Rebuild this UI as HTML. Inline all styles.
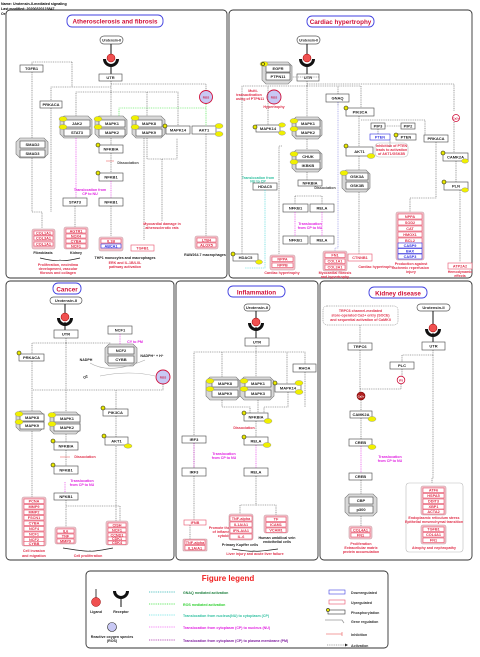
<!DOCTYPE html>
<html><head><meta charset="utf-8"><style>
html,body{margin:0;padding:0;background:#fff}
svg{display:block}
text{font-family:"Liberation Sans",sans-serif;font-weight:bold}
.g{fill:#fff;stroke:#444;stroke-width:.6}
.t{font-size:4px;text-anchor:middle;fill:#222}
.p{fill:#fff;stroke:#e8506a;stroke-width:.6}
.pg{fill:#f3c3cb;stroke:#c8a0a8;stroke-width:.6}
.tp{font-size:3.8px;text-anchor:middle;fill:#e0304a}
.b{fill:#fff;stroke:#3030e0;stroke-width:.6}
.tb{font-size:3.8px;text-anchor:middle;fill:#3030e0}
.cx{fill:#d8d8d8;stroke:#777;stroke-width:.6}
.pan{fill:#fff;stroke:#333;stroke-width:.9}
.ti{font-size:6.3px;text-anchor:middle;fill:#d0103a}
.tib{fill:#fff;stroke:#4040e0;stroke-width:.9}
.l{stroke:#555;stroke-width:.6;stroke-dasharray:1,.8;fill:none}
.lm{stroke:#e020e0;stroke-width:.6;stroke-dasharray:1,.8;fill:none}
.lg{stroke:#30e030;stroke-width:.6;stroke-dasharray:1,.8;fill:none}
.lc{stroke:#30d0d0;stroke-width:.6;stroke-dasharray:1,.8;fill:none}
.lb{stroke:#8080e0;stroke-width:.6;stroke-dasharray:1,.8;fill:none}
.s{stroke:#111;stroke-width:1;fill:none}
.y{fill:#f0f000;stroke:#888;stroke-width:.4}
.ph{fill:#e8e800;stroke:#222;stroke-width:.6}
.r{font-size:3.6px;text-anchor:middle;fill:#e0304a}
.m{font-size:3.6px;text-anchor:middle;fill:#e020e0}
.k{font-size:3.6px;text-anchor:middle;fill:#222}
.pill{fill:#fff;stroke:#555;stroke-width:.7}
.ros{fill:#c8c8f4;stroke:#d0103a;stroke-width:.9}
</style></head><body>
<svg width="480" height="657" viewBox="0 0 480 657" xmlns="http://www.w3.org/2000/svg">
<text x="1" y="5" style="font-size:3.6px">Name: Urotensin-II-mediated signaling</text>
<text x="1" y="10" style="font-size:3.6px">Last modified: 20200320123847</text>
<text x="1" y="15" style="font-size:3.6px">Organism: Homo sapiens</text>

<!-- PANELS -->
<rect class="pan" x="6" y="10" width="221" height="268" rx="4"/>
<rect class="pan" x="229" y="10" width="243" height="268" rx="4"/>
<rect class="pan" x="6" y="281" width="168" height="279" rx="4"/>
<rect class="pan" x="176" y="281" width="142" height="279" rx="4"/>
<rect class="pan" x="320" y="281" width="152" height="279" rx="4"/>
<rect class="pan" x="86" y="571" width="302" height="77" rx="4"/>

<!-- ===== PANEL 1 ===== -->
<rect class="tib" x="67" y="15" width="96" height="12" rx="5"/><text class="ti" x="115" y="23.3">Atherosclerosis and fibrosis</text>
<rect class="pill" x="100" y="36" width="23" height="8" rx="4"/><text class="t" x="111.5" y="41.5" style="font-size:3.4px">Urotensin-II</text>
<line class="s" x1="111" y1="44" x2="111" y2="55"/>
<path d="M103,59 A8,8 0 0,0 119,59 L116,59 A5,5 0 0,1 106,59Z" fill="#111"/>
<circle cx="111" cy="58" r="4" fill="#f05050" stroke="#900" stroke-width=".5"/>
<line class="s" x1="111" y1="64" x2="111" y2="74"/>
<rect class="g" x="99" y="74" width="23" height="7"/><text class="t" x="110.5" y="79">UTR</text>
<rect class="g" x="20" y="65" width="23" height="7"/><text class="t" x="31.5" y="70">TGFB1</text>
<rect class="g" x="40" y="101" width="22" height="7"/><text class="t" x="51" y="106">PRKACA</text>
<path class="l" d="M111,81 V95 M111,84 H206 V90 M111,87 H51 V101 M111,92 H76 V116 M111,92 H147 V116 M111,92 H178 V126 M111,92 V116 M72,62 H32 V65 M72,62 V87"/>
<polygon class="cx" points="64,116 88,116 92,120 92,134 88,138 64,138 60,134 60,120"/>
<rect class="g" x="64" y="120" width="26" height="7"/><text class="t" x="77" y="125">JAK2</text>
<rect class="g" x="64" y="129" width="26" height="7"/><text class="t" x="77" y="134">STAT3</text>
<polygon class="cx" points="99,116 123,116 127,120 127,134 123,138 99,138 95,134 95,120"/>
<rect class="g" x="99" y="120" width="26" height="7"/><text class="t" x="112" y="125">MAPK1</text>
<rect class="g" x="99" y="129" width="26" height="7"/><text class="t" x="112" y="134">MAPK2</text>
<polygon class="cx" points="136,116 161,116 165,120 165,134 161,138 136,138 132,134 132,120"/>
<rect class="g" x="136" y="120" width="26" height="7"/><text class="t" x="149" y="125">MAPK8</text>
<rect class="g" x="136" y="129" width="26" height="7"/><text class="t" x="149" y="134">MAPK9</text>
<ellipse class="y" cx="63" cy="119" rx="4" ry="2.5"/><ellipse class="y" cx="63" cy="127" rx="4" ry="2.5"/>
<ellipse class="y" cx="98" cy="119" rx="4" ry="2.5"/><ellipse class="y" cx="98" cy="127" rx="4" ry="2.5"/>
<ellipse class="y" cx="135" cy="118" rx="4" ry="2.5"/><ellipse class="y" cx="135" cy="127" rx="4" ry="2.5"/>
<rect class="g" x="166" y="126" width="24" height="8"/><text class="t" x="178" y="131.5">MAPK14</text>
<circle class="ph" cx="165" cy="126" r="2"/>
<rect class="g" x="192" y="126" width="24" height="8"/><text class="t" x="204" y="131.5">AKT1</text>
<ellipse class="y" cx="219" cy="126" rx="4" ry="2.5"/><ellipse class="y" cx="219" cy="134" rx="4" ry="2.5"/>
<circle class="ros" cx="206" cy="97" r="6.5"/><text class="t" x="206" y="98.5" style="fill:#d0103a;font-size:3px">ROS</text>
<path class="lg" d="M206,104 V126 M206,108 H119 V116"/>
<polygon class="cx" points="20,138 44,138 48,142 48,154 44,158 20,158 16,154 16,142"/>
<rect class="g" x="20" y="141" width="25" height="7"/><text class="t" x="32.5" y="146">SMAD2</text>
<rect class="g" x="20" y="150" width="25" height="7"/><text class="t" x="32.5" y="155">SMAD3</text>
<path class="l" d="M32,72 V138 M32,158 V212 H42 V228 M51,108 V212"/>
<rect class="g" x="99" y="145" width="24" height="8"/><text class="t" x="111" y="150.5">NFKBIA</text><circle class="ph" cx="98" cy="145" r="2"/>
<line x1="106" y1="161" x2="114" y2="161" stroke="#f08080" stroke-width=".7"/><text class="k" x="128" y="164" style="fill:#444">Dissociation</text>
<rect class="g" x="99" y="173" width="24" height="8"/><text class="t" x="111" y="178.5">NFKB1</text><circle class="ph" cx="98" cy="173" r="2"/>
<path class="l" d="M111,138 V145 M111,153 V173 M147,138 V159 H177 V138 M162,159 V221 M111,206 V236 M144,138 V240 M75,206 V227 M206,134 V236"/>
<path class="lm" d="M111,181 V198 M76,138 V198"/>
<text class="m" x="90" y="191">Translocation from</text><text class="m" x="90" y="195">CP to NU</text>
<rect class="g" x="63" y="198" width="24" height="8"/><text class="t" x="75" y="203.5">STAT3</text>
<rect class="g" x="99" y="198" width="24" height="8"/><text class="t" x="111" y="203.5">NFKB1</text>
<text class="r" x="162" y="225">Myocardial damage in</text><text class="r" x="162" y="229">atherosclerotic rats</text>
<rect class="pg" x="32" y="229" width="23" height="20" rx="2"/>
<rect class="p" x="34" y="231" width="19" height="4"/><text class="tp" x="43.5" y="234.3">COL1A1</text>
<rect class="p" x="34" y="236" width="19" height="4"/><text class="tp" x="43.5" y="239.3">COL3A1</text>
<rect class="p" x="34" y="242" width="19" height="4"/><text class="tp" x="43.5" y="245.3">COL1A1</text>
<rect class="pg" x="64" y="227" width="24" height="22" rx="2"/>
<rect class="p" x="66" y="229" width="20" height="4"/><text class="tp" x="76" y="232.3">AGTR1</text>
<rect class="p" x="66" y="234" width="20" height="4"/><text class="tp" x="76" y="237.3">NOX4</text>
<rect class="p" x="66" y="239" width="20" height="4"/><text class="tp" x="76" y="242.3">CYBA</text>
<rect class="p" x="66" y="244" width="20" height="4"/><text class="tp" x="76" y="247.3">NCF1</text>
<rect class="pg" x="99" y="237" width="24" height="14" rx="2"/>
<rect class="p" x="101" y="239" width="20" height="4"/><text class="tp" x="111" y="242.3">IL1B</text>
<rect class="b" x="101" y="244" width="20" height="4"/><text class="tb" x="111" y="247.3">ABCA1</text>
<rect class="p" x="131" y="245" width="23" height="6"/><text class="tp" x="142.5" y="249.3">TGFB1</text>
<rect class="pg" x="195" y="236" width="23" height="13" rx="2"/>
<rect class="p" x="197" y="238" width="19" height="4"/><text class="tp" x="206.5" y="241.3">LTB4</text>
<rect class="p" x="197" y="243" width="19" height="4"/><text class="tp" x="206.5" y="246.3">ALOX5</text>
<text class="k" x="43" y="254">Fibroblasts</text><text class="k" x="76" y="254">Kidney</text>
<text class="k" x="125" y="259">THP1 monocytes and macrophages</text><text class="k" x="205" y="256">RAW264.7 macrophages</text>
<path d="M40,258 Q57,262 60,260 Q63,262 80,258" stroke="#222" stroke-width=".7" fill="none"/>
<text class="r" x="58" y="266">Proliferation, neointima</text><text class="r" x="58" y="270">development, vascular</text><text class="r" x="58" y="274">fibrosis and collagen</text>
<text class="r" x="125" y="264">ERK and IL-1B/LXL</text><text class="r" x="125" y="268">pathway activation</text>

<!-- ===== PANEL 2 ===== -->
<rect class="tib" x="307" y="16" width="67" height="11" rx="5"/><text class="ti" x="340.5" y="23.8">Cardiac hypertrophy</text>
<rect class="pill" x="297" y="36" width="23" height="8" rx="4"/><text class="t" x="308.5" y="41.5" style="font-size:3.4px">Urotensin-II</text>
<line class="s" x1="307" y1="44" x2="307" y2="55"/>
<path d="M299,59 A8,8 0 0,0 315,59 L312,59 A5,5 0 0,1 302,59Z" fill="#111"/>
<circle cx="307" cy="58" r="4" fill="#f05050" stroke="#900" stroke-width=".5"/>
<line class="s" x1="307" y1="64" x2="307" y2="74"/>
<rect class="g" x="297" y="74" width="22" height="7"/><text class="t" x="308" y="79">UTR</text>
<polygon class="cx" points="266,62 288,62 292,66 292,80 288,84 266,84 262,80 262,66"/>
<rect class="g" x="266" y="65" width="24" height="7"/><text class="t" x="278" y="70">EGFR</text>
<rect class="g" x="266" y="73" width="24" height="7"/><text class="t" x="278" y="78">PTPN11</text>
<ellipse class="y" cx="264" cy="64" rx="4" ry="2.5"/><circle class="ph" cx="263" cy="64" r="1.6"/>
<circle class="ros" cx="274" cy="97" r="7"/><text class="t" x="274" y="98.5" style="fill:#d0103a;font-size:3px">ROS</text>
<text class="r" x="253" y="92">Multi-</text><text class="r" x="249" y="96">transactivation</text><text class="r" x="250" y="100">using of PTPN11</text>
<text class="r" x="274" y="108">Hypertrophy</text>
<path class="l" d="M307,81 V117 M307,84 H454 V111 M307,86 H338 V94 M307,86 H242 V254 M307,86 H268 V125 M319,77 H292 M307,86 H361 V108 M338,102 V106"/>
<rect class="g" x="326" y="94" width="23" height="8"/><text class="t" x="337.5" y="99.5">GNAQ</text>
<rect class="g" x="346" y="108" width="28" height="8"/><text class="t" x="360" y="113.5">PIK3CA</text><circle class="ph" cx="346" cy="108" r="2"/>
<rect class="g" x="256" y="125" width="24" height="7"/><text class="t" x="268" y="130">MAPK14</text><circle class="ph" cx="255" cy="127" r="2"/>
<ellipse class="y" cx="282" cy="125" rx="3.5" ry="2.2"/><ellipse class="y" cx="282" cy="133" rx="3.5" ry="2.2"/>
<polygon class="cx" points="296,117 318,117 322,121 322,135 318,139 296,139 292,135 292,121"/>
<rect class="g" x="296" y="120" width="24" height="7"/><text class="t" x="308" y="125">MAPK1</text>
<rect class="g" x="296" y="129" width="24" height="7"/><text class="t" x="308" y="134">MAPK2</text>
<ellipse class="y" cx="294" cy="121" rx="4" ry="2.5"/><ellipse class="y" cx="294" cy="129" rx="4" ry="2.5"/>
<rect class="g" x="371" y="123" width="14" height="6"/><text class="t" x="378" y="127.5">PIP3</text>
<rect class="g" x="401" y="123" width="14" height="6"/><text class="t" x="408" y="127.5">PIP2</text>
<rect class="b" x="370" y="134" width="20" height="6"/><text class="tb" x="380" y="138.5">PTEN</text>
<rect class="g" x="396" y="134" width="20" height="6"/><text class="t" x="406" y="138.5">PTEN</text><circle class="ph" cx="396" cy="135" r="2"/>
<rect class="g" x="346" y="147" width="27" height="9"/><text class="t" x="359.5" y="153">AKT1</text><circle class="ph" cx="346" cy="146" r="2"/>
<ellipse class="y" cx="371" cy="156" rx="4" ry="2.5"/>
<rect x="375" y="143" width="33" height="14" rx="4" fill="#fff" stroke="#bbb" stroke-width=".6"/>
<text class="r" x="391.5" y="147">Inhibition of PTEN</text><text class="r" x="391.5" y="151">leads to activation</text><text class="r" x="391.5" y="155">of AKT1/GSK3B</text>
<rect class="g" x="424" y="135" width="24" height="7"/><text class="t" x="436" y="140">PRKACA</text>
<circle cx="456" cy="118" r="3.5" fill="#fff" stroke="#d0103a" stroke-width=".8"/><text class="t" x="456" y="119.3" style="fill:#d0103a;font-size:2.8px">Ca2+</text>
<rect class="g" x="443" y="153" width="25" height="8"/><text class="t" x="455.5" y="158.5">CAMK2A</text><circle class="ph" cx="443" cy="153" r="2"/><ellipse class="y" cx="465" cy="161" rx="3.5" ry="2.2"/>
<rect class="g" x="444" y="182" width="24" height="8"/><text class="t" x="456" y="187.5">PLN</text><circle class="ph" cx="444" cy="182" r="2"/><ellipse class="y" cx="465" cy="190" rx="3.5" ry="2.2"/>
<polygon class="cx" points="296,150 318,150 322,154 322,168 318,172 296,172 292,168 292,154"/>
<rect class="g" x="296" y="153" width="24" height="7"/><text class="t" x="308" y="158">CHUK</text>
<rect class="g" x="296" y="162" width="24" height="7"/><text class="t" x="308" y="167">IKBKB</text>
<ellipse class="y" cx="294" cy="154" rx="4" ry="2.5"/><ellipse class="y" cx="294" cy="162" rx="4" ry="2.5"/>
<rect class="g" x="298" y="180" width="24" height="6"/><text class="t" x="310" y="184.5">NFKBIA</text>
<text class="k" x="325" y="189" style="fill:#444">Dissociation</text>
<polygon class="cx" points="346,170 366,170 370,174 370,188 366,192 346,192 342,188 342,174"/>
<rect class="g" x="346" y="173" width="22" height="7"/><text class="t" x="357" y="178">GSK3A</text>
<rect class="g" x="346" y="182" width="22" height="7"/><text class="t" x="357" y="187">GSK3B</text>
<ellipse class="y" cx="344" cy="173" rx="4" ry="2.5"/>
<rect class="g" x="253" y="183" width="24" height="7"/><text class="t" x="265" y="188">HDAC5</text>
<text class="k" x="258" y="179" style="fill:#30c0a0">Translocation from</text><text class="k" x="258" y="182.5" style="fill:#30c0a0">NU to CP</text>
<rect class="g" x="283" y="204" width="25" height="8"/><text class="t" x="295.5" y="209.5">NFKB1</text>
<rect class="g" x="310" y="204" width="24" height="8"/><text class="t" x="322" y="209.5">RELA</text>
<rect class="g" x="283" y="236" width="25" height="8"/><text class="t" x="295.5" y="241.5">NFKB1</text>
<rect class="g" x="310" y="236" width="24" height="8"/><text class="t" x="322" y="241.5">RELA</text>
<path class="lm" d="M295,212 V236 M322,212 V236"/>
<text class="m" x="310" y="225">Translocation</text><text class="m" x="310" y="229">from CP to NU</text>
<path class="l" d="M307,139 V150 M307,172 V180 M295,196 H322 M295,196 V204 M322,196 V204 M282,146 H279 V254 M359,116 V147 M359,156 V170 M359,192 V254 M385,126 H401 M378,129 V134 M436,142 V198 H410 V213 M454,122 V153 M456,161 V182 M460,190 V262 M361,120 H425 V135 M390,147 V140"/>
<path class="lc" d="M265,190 V268 H245"/>
<path class="lb" d="M338,102 V248 H335 V251"/>
<rect class="g" x="233" y="254" width="25" height="7"/><text class="t" x="245.5" y="259">HDAC5</text><circle class="ph" cx="233" cy="254" r="2"/><ellipse class="y" cx="259" cy="262" rx="3.5" ry="2.2"/>
<rect class="pg" x="270" y="255" width="25" height="15" rx="2"/>
<rect class="p" x="272" y="257" width="21" height="4.5"/><text class="tp" x="282.5" y="260.7">NPPA</text>
<rect class="p" x="272" y="263" width="21" height="4.5"/><text class="tp" x="282.5" y="266.7">NPPB</text>
<rect class="pg" x="323" y="251" width="24" height="20" rx="2"/>
<rect class="p" x="325" y="253" width="20" height="4.5"/><text class="tp" x="335" y="256.7">FN1</text>
<rect class="p" x="325" y="259" width="20" height="4.5"/><text class="tp" x="335" y="262.7">COL1A1</text>
<rect class="p" x="325" y="265" width="20" height="4.5"/><text class="tp" x="335" y="268.7">COL3A1</text>
<rect class="p" x="348" y="254" width="24" height="7"/><text class="tp" x="360" y="259">CTNNB1</text>
<rect class="pg" x="396" y="212" width="28" height="48" rx="2"/>
<rect class="p" x="398" y="214" width="24" height="5"/><text class="tp" x="410" y="218">NPPA</text>
<rect class="p" x="398" y="220" width="24" height="5"/><text class="tp" x="410" y="224">SOD2</text>
<rect class="p" x="398" y="226" width="24" height="5"/><text class="tp" x="410" y="230">CAT</text>
<rect class="p" x="398" y="232" width="24" height="5"/><text class="tp" x="410" y="236">HMOX1</text>
<rect class="p" x="398" y="238" width="24" height="5"/><text class="tp" x="410" y="242">BCL2</text>
<rect class="b" x="398" y="243" width="24" height="5"/><text class="tb" x="410" y="247">CASP9</text>
<rect class="b" x="398" y="248.5" width="24" height="5"/><text class="tb" x="410" y="252.5">BAX</text>
<rect class="b" x="398" y="254" width="24" height="5"/><text class="tb" x="410" y="258">CASP3</text>
<rect class="p" x="448" y="263" width="24" height="6"/><text class="tp" x="460" y="267.3">ATP2A2</text>
<text class="r" x="282" y="274">Cardiac hypertrophy</text>
<text class="r" x="335" y="274">Myocardial fibrosis</text><text class="r" x="335" y="278">and hypertrophy</text>
<text class="r" x="376" y="268">Cardiac hypertrophy</text>
<text class="r" x="411" y="265">Production against</text><text class="r" x="411" y="269">ischemic reperfusion</text><text class="r" x="411" y="273">injury</text>
<text class="r" x="460" y="273">Hemodynamic</text><text class="r" x="460" y="277">effects</text>

<!-- ===== PANEL 3 CANCER ===== -->
<rect class="tib" x="53" y="283" width="28" height="11" rx="5"/><text class="ti" x="67" y="291.3">Cancer</text>
<rect class="pill" x="50" y="297" width="32" height="7" rx="3.5"/><text class="t" x="66" y="302">Urotensin-II</text>
<line class="s" x1="65" y1="304" x2="65" y2="314"/>
<path d="M57,318 A8,8 0 0,0 73,318 L70,318 A5,5 0 0,1 60,318Z" fill="#111"/>
<circle cx="65" cy="317" r="4" fill="#f05050" stroke="#900" stroke-width=".5"/>
<line class="s" x1="65" y1="322" x2="65" y2="330"/>
<rect class="g" x="54" y="330" width="24" height="8"/><text class="t" x="66" y="335.5">UTR</text>
<rect class="g" x="108" y="326" width="24" height="8"/><text class="t" x="120" y="331.5">NCF1</text>
<text class="m" x="135" y="343">CY to PM</text>
<polygon class="cx" points="109,344 133,344 137,348 137,362 133,366 109,366 105,362 105,348"/>
<rect class="g" x="108" y="347" width="26" height="7"/><text class="t" x="121" y="352">NCF2</text>
<rect class="g" x="108" y="356" width="26" height="7"/><text class="t" x="121" y="361">CYBB</text>
<text class="k" x="86" y="361">NADPH</text><text class="k" x="152" y="357">NADPH⁺ + H⁺</text>
<text class="k" x="86" y="378" transform="rotate(-25 86 378)">O2</text>
<circle class="ros" cx="163" cy="377" r="7"/><text class="t" x="163" y="378.5" style="fill:#d0103a;font-size:3px">ROS</text>
<path d="M90,363 Q110,375 145,360 M100,376 Q130,370 155,376" stroke="#aaa" stroke-width=".6" fill="none"/>
<rect class="g" x="19" y="354" width="25" height="7"/><text class="t" x="31.5" y="359">PRKACA</text><circle class="ph" cx="19" cy="353" r="2"/>
<path class="lm" d="M120,344 V334 M65,482 V493"/>
<path class="l" d="M66,338 V412 M66,343 H110 V344 M66,343 H32 V354 M32,361 V411 M163,384 V390 H32 M116,390 V409 M116,416 V437 M116,446 V521 M32,431 V497 M66,434 V442 M66,450 V466 M66,500 V527 M66,506 H120 V521"/>
<polygon class="cx" points="20,411 40,411 44,415 44,427 40,431 20,431 16,427 16,415"/>
<rect class="g" x="20" y="414" width="24" height="7"/><text class="t" x="32" y="419">MAPK8</text>
<rect class="g" x="20" y="422" width="24" height="7"/><text class="t" x="32" y="427">MAPK9</text>
<ellipse class="y" cx="19" cy="414" rx="4" ry="2.5"/><ellipse class="y" cx="19" cy="422" rx="4" ry="2.5"/>
<polygon class="cx" points="54,412 76,412 80,416 80,430 76,434 54,434 50,430 50,416"/>
<rect class="g" x="54" y="415" width="26" height="7"/><text class="t" x="67" y="420">MAPK1</text>
<rect class="g" x="54" y="424" width="26" height="7"/><text class="t" x="67" y="429">MAPK2</text>
<ellipse class="y" cx="52" cy="415" rx="4" ry="2.5"/><ellipse class="y" cx="52" cy="424" rx="4" ry="2.5"/>
<rect class="g" x="103" y="409" width="25" height="7"/><text class="t" x="115.5" y="414">PIK3CA</text><circle class="ph" cx="103" cy="408" r="2"/>
<rect class="g" x="54" y="442" width="24" height="8"/><text class="t" x="66" y="447.5">NFKBIA</text><circle class="ph" cx="53" cy="441" r="2"/>
<rect class="g" x="105" y="437" width="23" height="8"/><text class="t" x="116.5" y="442.5">AKT1</text><circle class="ph" cx="104" cy="436" r="2"/><ellipse class="y" cx="128" cy="446" rx="4" ry="2.2"/>
<line x1="60" y1="457" x2="70" y2="457" stroke="#f08080" stroke-width=".7"/><text class="r" x="85" y="458">Dissociation</text>
<rect class="g" x="54" y="466" width="24" height="8"/><text class="t" x="66" y="471.5">NFKB1</text><circle class="ph" cx="53" cy="465" r="2"/>
<text class="m" x="82" y="482">Translocation</text><text class="m" x="82" y="486">from CP to NU</text>
<rect class="g" x="54" y="493" width="24" height="7"/><text class="t" x="66" y="498">NFKB1</text>
<rect class="pg" x="22" y="497" width="24" height="49" rx="2"/>
<rect class="p" x="24" y="499" width="20" height="4.5"/><text class="tp" x="34" y="502.7">PCNA</text>
<rect class="p" x="24" y="504.5" width="20" height="4.5"/><text class="tp" x="34" y="508.2">MMP9</text>
<rect class="p" x="24" y="510" width="20" height="4.5"/><text class="tp" x="34" y="513.7">MMP2</text>
<rect class="p" x="24" y="515.5" width="20" height="4.5"/><text class="tp" x="34" y="519.2">FSCN1</text>
<rect class="p" x="24" y="521" width="20" height="4.5"/><text class="tp" x="34" y="524.7">CYBA</text>
<rect class="p" x="24" y="526.5" width="20" height="4.5"/><text class="tp" x="34" y="530.2">NCF4</text>
<rect class="p" x="24" y="532" width="20" height="4.5"/><text class="tp" x="34" y="535.7">NCF1</text>
<rect class="p" x="24" y="537.5" width="20" height="4.5"/><text class="tp" x="34" y="541.2">NCF2</text>
<rect class="p" x="24" y="541.5" width="20" height="4"/><text class="tp" x="34" y="545">CYBB</text>
<rect class="pg" x="55" y="527" width="21" height="17" rx="2"/>
<rect class="p" x="57" y="529" width="17" height="4"/><text class="tp" x="65.5" y="532.3">IL6</text>
<rect class="p" x="57" y="534" width="17" height="4"/><text class="tp" x="65.5" y="537.3">TNF</text>
<rect class="p" x="57" y="539" width="17" height="4"/><text class="tp" x="65.5" y="542.3">MMP9</text>
<rect class="pg" x="106" y="521" width="22" height="24" rx="2"/>
<rect class="p" x="108" y="523" width="18" height="4"/><text class="tp" x="117" y="526.3">CISH</text>
<rect class="p" x="108" y="528" width="18" height="4"/><text class="tp" x="117" y="531.3">NCF1</text>
<rect class="p" x="108" y="533" width="18" height="4"/><text class="tp" x="117" y="536.3">CCND1</text>
<rect class="p" x="108" y="537" width="18" height="3.5"/><text class="tp" x="117" y="540">CDK1</text>
<rect class="p" x="108" y="541" width="18" height="3.5"/><text class="tp" x="117" y="544">CDK4</text>
<text class="r" x="34" y="552">Cell invasion</text><text class="r" x="34" y="557">and migration</text>
<path d="M63,548 Q88,552 90,551 Q92,552 113,548" stroke="#222" stroke-width=".7" fill="none"/>
<text class="r" x="88" y="557">Cell proliferation</text>

<!-- ===== PANEL 4 INFLAMMATION ===== -->
<rect class="tib" x="228" y="286" width="57" height="11" rx="5"/><text class="ti" x="256.5" y="294.3">Inflammation</text>
<rect class="pill" x="244" y="304" width="26" height="7" rx="3.5"/><text class="t" x="257" y="309">Urotensin-II</text>
<line class="s" x1="256" y1="311" x2="256" y2="319"/>
<path d="M248,323 A8,8 0 0,0 264,323 L261,323 A5,5 0 0,1 251,323Z" fill="#111"/>
<circle cx="256" cy="322" r="4" fill="#f05050" stroke="#900" stroke-width=".5"/>
<line class="s" x1="256" y1="327" x2="256" y2="338"/>
<rect class="g" x="245" y="338" width="24" height="8"/><text class="t" x="257" y="343.5">UTR</text>
<rect class="g" x="293" y="364" width="23" height="8"/><text class="t" x="304.5" y="369.5">RHOA</text>
<path class="l" d="M256,346 V377 M256,352 H194 V436 M256,352 H305 V364 M256,352 H222 V377 M256,352 H287 V384 M222,400 V407 H250 V413 M258,400 V413 M288,392 V407 H264 V413 M305,372 V407 M256,421 V437 M194,443 V468 M194,476 V520 M256,476 V505 H240 V514 M256,505 H276 V515 M190,525 V540"/>
<path class="lm" d="M194,443 V468 M256,445 V468"/>
<polygon class="cx" points="210,377 236,377 240,381 240,396 236,400 210,400 206,396 206,381"/>
<rect class="g" x="212" y="380" width="26" height="7"/><text class="t" x="225" y="385">MAPK8</text>
<rect class="g" x="212" y="390" width="26" height="7"/><text class="t" x="225" y="395">MAPK9</text>
<ellipse class="y" cx="210" cy="381" rx="4" ry="2.5"/><ellipse class="y" cx="210" cy="389" rx="4" ry="2.5"/>
<polygon class="cx" points="244,377 270,377 274,381 274,396 270,400 244,400 240,396 240,381"/>
<rect class="g" x="245" y="380" width="26" height="7"/><text class="t" x="258" y="385">MAPK1</text>
<rect class="g" x="245" y="390" width="26" height="7"/><text class="t" x="258" y="395">MAPK3</text>
<ellipse class="y" cx="244" cy="381" rx="4" ry="2.5"/><ellipse class="y" cx="244" cy="389" rx="4" ry="2.5"/>
<rect class="g" x="275" y="384" width="26" height="8"/><text class="t" x="288" y="389.5">MAPK14</text><circle class="ph" cx="275" cy="383" r="2"/>
<ellipse class="y" cx="299" cy="383" rx="4" ry="2.5"/><ellipse class="y" cx="299" cy="392" rx="4" ry="2.5"/>
<rect class="g" x="244" y="413" width="24" height="8"/><text class="t" x="256" y="418.5">NFKBIA</text><circle class="ph" cx="244" cy="413" r="2"/><ellipse class="y" cx="268" cy="421" rx="4" ry="2.5"/>
<text class="r" x="244" y="429">Dissociation</text>
<rect class="g" x="244" y="437" width="24" height="8"/><text class="t" x="256" y="442.5">RELA</text><circle class="ph" cx="244" cy="437" r="2"/><ellipse class="y" cx="267" cy="445" rx="4" ry="2.5"/>
<rect class="g" x="182" y="436" width="24" height="7"/><text class="t" x="194" y="441">IRF3</text>
<text class="m" x="224" y="455">Translocation</text><text class="m" x="224" y="459">from CP to NU</text>
<rect class="g" x="182" y="468" width="24" height="8"/><text class="t" x="194" y="473.5">IRF3</text>
<rect class="g" x="244" y="468" width="24" height="8"/><text class="t" x="256" y="473.5">RELA</text>
<rect class="p" x="184" y="520" width="22" height="5"/><text class="tp" x="195" y="524">IFNB</text>
<text class="r" x="226" y="529">Promote the release</text><text class="r" x="226" y="533">of inflammatory</text><text class="r" x="226" y="537">cytokines</text>
<rect class="pg" x="183" y="539" width="24" height="12" rx="1"/>
<rect class="p" x="185" y="540" width="20" height="4.5"/><text class="tp" x="195" y="543.8">TNF-alpha</text>
<rect class="p" x="185" y="545.5" width="20" height="4.5"/><text class="tp" x="195" y="549.3">IL1A/A1</text>
<rect class="pg" x="229" y="514" width="24" height="26" rx="2"/>
<rect class="p" x="230" y="516" width="22" height="5"/><text class="tp" x="241" y="520">TNF-alpha</text>
<rect class="p" x="230" y="522" width="22" height="5"/><text class="tp" x="241" y="526">IL1A/A1</text>
<rect class="p" x="230" y="528" width="22" height="5"/><text class="tp" x="241" y="532">IFN-A/A1</text>
<rect class="p" x="230" y="534" width="22" height="5"/><text class="tp" x="241" y="538">IL-6</text>
<rect class="pg" x="264" y="515" width="24" height="18" rx="2"/>
<rect class="p" x="266" y="517" width="20" height="4.5"/><text class="tp" x="276" y="520.7">TF</text>
<rect class="p" x="266" y="522.5" width="20" height="4.5"/><text class="tp" x="276" y="526.2">ICAM1</text>
<rect class="p" x="266" y="528" width="20" height="4.5"/><text class="tp" x="276" y="531.7">VCAM1</text>
<text class="k" x="240" y="546">Primary Kupffer cells</text>
<text class="k" x="277" y="539">Human umbilical vein</text><text class="k" x="277" y="543">endothelial cells</text>
<path d="M232,549 Q252,552 254,551 Q256,552 278,549" stroke="#222" stroke-width=".7" fill="none"/>
<text class="r" x="255" y="555">Liver injury and acute liver failure</text>

<!-- ===== PANEL 5 KIDNEY ===== -->
<rect class="tib" x="369" y="287" width="58" height="11" rx="5"/><text class="ti" x="398" y="295.3">Kidney disease</text>
<rect x="323" y="306" width="75" height="19" rx="4" fill="#fff" stroke="#666" stroke-width=".5" stroke-dasharray="1,.8"/>
<text class="r" x="360.5" y="312">TRPC6 channel-mediated</text><text class="r" x="360.5" y="316.5">store-operated Ca2+ entry (SOCE)</text><text class="r" x="360.5" y="321">and sequential activation of CaMKII</text>
<rect class="pill" x="417" y="304" width="33" height="7" rx="3.5"/><text class="t" x="433.5" y="309">Urotensin-II</text>
<line class="s" x1="433" y1="311" x2="433" y2="325"/>
<path d="M425,329 A8,8 0 0,0 441,329 L438,329 A5,5 0 0,1 428,329Z" fill="#111"/>
<circle cx="433" cy="328" r="4" fill="#f05050" stroke="#900" stroke-width=".5"/>
<line class="s" x1="433" y1="333" x2="433" y2="342"/>
<rect class="g" x="422" y="342" width="23" height="8"/><text class="t" x="433.5" y="347.5">UTR</text>
<rect class="g" x="348" y="343" width="24" height="7"/><text class="t" x="360" y="348">TRPC6</text>
<rect class="g" x="390" y="362" width="24" height="7"/><text class="t" x="402" y="367">PLC</text>
<circle cx="401" cy="380" r="3.8" fill="#fff" stroke="#d0103a" stroke-width=".8"/><text class="t" x="401" y="381.3" style="fill:#d0103a;font-size:2.8px">IP3</text>
<circle cx="361" cy="396" r="4" fill="#b02020" stroke="#700" stroke-width=".6"/><text class="t" x="361" y="397.3" style="fill:#fff;font-size:2.8px">Ca2+</text>
<path class="l" d="M360,325 V343 M360,350 V392 M433,350 V355 H402 V362 M402,369 V376 M401,384 V389 H360 M361,400 V411 M361,418 V439 M361,480 V494 M361,516 V526 M433,355 V478 H432 V484"/>
<path class="lm" d="M361,446 V473"/>
<rect class="g" x="350" y="411" width="22" height="7"/><text class="t" x="361" y="416">CAMK2A</text><ellipse class="y" cx="372" cy="419" rx="4" ry="2.5"/>
<rect class="g" x="349" y="439" width="23" height="7"/><text class="t" x="360.5" y="444">CREB</text><ellipse class="y" cx="372" cy="447" rx="4" ry="2.5"/>
<text class="m" x="390" y="458">Translocation</text><text class="m" x="390" y="462">from CP to NU</text>
<rect class="g" x="349" y="473" width="23" height="7"/><text class="t" x="360.5" y="478">CREB</text>
<polygon class="cx" points="349,494 373,494 377,498 377,512 373,516 349,516 345,512 345,498"/>
<rect class="g" x="349" y="497" width="24" height="7"/><text class="t" x="361" y="502">CBP</text>
<rect class="g" x="349" y="506" width="24" height="7"/><text class="t" x="361" y="511">p300</text>
<rect class="pg" x="349" y="526" width="23" height="13" rx="2"/>
<rect class="p" x="351" y="528" width="19" height="4"/><text class="tp" x="360.5" y="531.3">COL4A1</text>
<rect class="p" x="351" y="533" width="19" height="4"/><text class="tp" x="360.5" y="536.3">FN1</text>
<text class="r" x="361" y="545">Proliferation</text><text class="r" x="361" y="549">Extracellular matrix</text><text class="r" x="361" y="553">protein accumulation</text>
<rect x="406" y="483" width="57" height="69" rx="3" fill="#fff" stroke="#bbb" stroke-width=".6"/>
<rect class="pg" x="421" y="486" width="25" height="29" rx="2"/>
<rect class="p" x="423" y="488" width="21" height="4.5"/><text class="tp" x="433.5" y="491.7">ATF6</text>
<rect class="p" x="423" y="493.5" width="21" height="4.5"/><text class="tp" x="433.5" y="497.2">HSPA5</text>
<rect class="p" x="423" y="499" width="21" height="4.5"/><text class="tp" x="433.5" y="502.7">DDIT3</text>
<rect class="p" x="423" y="504.5" width="21" height="4.5"/><text class="tp" x="433.5" y="508.2">XBP1</text>
<rect class="p" x="423" y="509.5" width="21" height="4.5"/><text class="tp" x="433.5" y="513.2">ACTA2</text>
<text class="r" x="434" y="519">Endoplasmic reticulum stress</text><text class="r" x="434" y="523">Epithelial mesenchymal transition</text>
<rect class="pg" x="421" y="525" width="25" height="19" rx="2"/>
<rect class="p" x="423" y="527" width="21" height="4.5"/><text class="tp" x="433.5" y="530.7">TGFB1</text>
<rect class="p" x="423" y="532.5" width="21" height="4.5"/><text class="tp" x="433.5" y="536.2">COL4A1</text>
<rect class="p" x="423" y="538" width="21" height="4.5"/><text class="tp" x="433.5" y="541.7">FN1</text>
<text class="r" x="434" y="549">Atrophy and nephropathy</text>

<!-- ===== LEGEND ===== -->
<text x="228" y="581" style="font-size:8px;fill:#f02020;text-anchor:middle">Figure legend</text>
<line x1="96" y1="589" x2="96" y2="601" stroke="#111" stroke-width=".8"/><circle cx="96" cy="602" r="4.5" fill="#f05050" stroke="#900" stroke-width=".5"/>
<text class="k" x="96" y="613">Ligand</text>
<path d="M113,591 A8,8 0 0,0 129,591 L126,591 A5,5 0 0,1 116,591Z" fill="#111"/><line x1="121" y1="598" x2="121" y2="607" stroke="#111" stroke-width="1"/>
<text class="k" x="121" y="613">Receptor</text>
<circle cx="112" cy="627" r="4.5" fill="#c8c8f4" stroke="#222" stroke-width=".6"/>
<text class="k" x="112" y="638">Reactive oxygen species</text><text class="k" x="112" y="642">(ROS)</text>
<line x1="149" y1="592" x2="175" y2="592" stroke="#20b0b0" stroke-width=".7" stroke-dasharray="1,.8"/><text x="183" y="594" style="font-size:3.6px;fill:#208040">GNAQ mediated activation</text>
<line x1="149" y1="604" x2="175" y2="604" stroke="#30e030" stroke-width=".7" stroke-dasharray="1,.8"/><text x="183" y="606" style="font-size:3.6px;fill:#30d030">ROS mediated activation</text>
<line x1="149" y1="615" x2="175" y2="615" stroke="#60e0e0" stroke-width=".7" stroke-dasharray="1,.8"/><text x="183" y="617" style="font-size:3.6px;fill:#30c0a0">Translocation from nucleus(NU) to cytoplasm (CP)</text>
<line x1="149" y1="627" x2="175" y2="627" stroke="#f060f0" stroke-width=".7" stroke-dasharray="1,.8"/><text x="183" y="629" style="font-size:3.6px;fill:#e020e0">Translocation from cytoplasm (CP) to nucleus (NU)</text>
<line x1="149" y1="640" x2="175" y2="640" stroke="#a020a0" stroke-width=".7" stroke-dasharray="1,.8"/><text x="183" y="642" style="font-size:3.6px;fill:#8020a0">Translocation from cytoplasm (CP) to plasma membrane (PM)</text>
<rect x="329" y="590" width="16" height="4" fill="#fff" stroke="#4040e0" stroke-width=".6"/><text x="351" y="594" style="font-size:3.6px;fill:#333">Downregulated</text>
<rect x="329" y="600" width="16" height="4" fill="#fff" stroke="#e8506a" stroke-width=".6"/><text x="351" y="604" style="font-size:3.6px;fill:#333">Upregulated</text>
<rect x="328" y="610" width="17" height="4" fill="#fff" stroke="#333" stroke-width=".6"/><circle class="ph" cx="328" cy="610" r="1.6"/><text x="351" y="614" style="font-size:3.6px;fill:#333">Phosphorylation</text>
<path d="M325,620 H342 L344,623" stroke="#999" stroke-width=".8" fill="none"/><text x="351" y="623" style="font-size:3.6px;fill:#333">Gene regulation</text>
<path d="M326,634 H342 M342,632 V636" stroke="#f08080" stroke-width=".8" fill="none"/><text x="351" y="636" style="font-size:3.6px;fill:#333">Inhibition</text>
<line x1="327" y1="645" x2="345" y2="645" stroke="#555" stroke-width=".6" stroke-dasharray="1,.8"/><polygon points="345,643.5 348,645 345,646.5" fill="#222"/><text x="351" y="647" style="font-size:3.6px;fill:#333">Activation</text>
</svg>
</body></html>
